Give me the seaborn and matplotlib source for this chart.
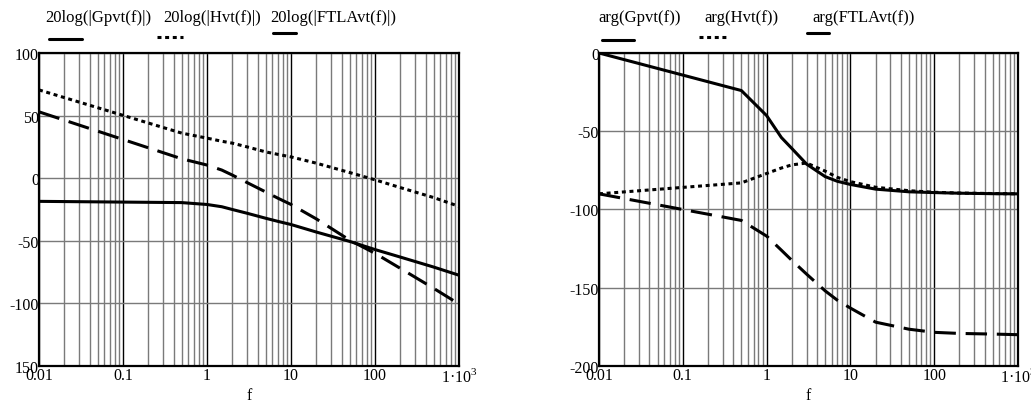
import numpy as np
import pandas as pd
import seaborn as sns
import matplotlib.pyplot as plt
from matplotlib.lines import Line2D
from matplotlib.ticker import FixedLocator, LogLocator, NullFormatter, FixedFormatter

# Frequency samples (Hz)
freq = [0.01, 0.5, 1, 1.5, 2, 3, 5, 7, 10, 20, 50, 100, 200, 500, 1000]

# Magnitudes in dB
mag_gpvt = [-18.5, -19.5, -21, -22.8, -25, -28, -32, -34.5, -37, -43, -50.5, -57, -63, -71, -77.5]
mag_hvt = [70.5, 36, 32, 29.5, 28, 25, 21, 19, 17, 12, 4.5, -1.3, -7.5, -15.5, -22.5]
mag_ftla = [53, 15.5, 10.5, 6.5, 2.5, -3.5, -11, -16, -21, -32.5, -49.5, -60, -72, -88, -100.5]

# Phases in degrees
ph_gpvt = [0, -24, -40, -54, -61, -71, -79, -82, -84, -87, -88.7, -89.2, -89.6, -89.9, -90]
ph_hvt = [-90, -83, -77, -73.5, -71.5, -70.3, -75.5, -79.5, -82.2, -85.8, -88, -89, -89.5, -89.8, -90]
ph_ftla = [-90, -107, -117, -126, -132.5, -141.3, -152, -158, -163, -172, -176.5, -178.5, -179.2, -179.6, -180]

x_ticks = [0.01, 0.1, 1, 10, 100, 1000]
x_labels = ["0.01", "0.1", "1", "10", "100", "1\u00b710$^{3}$"]
mag_ticks = [-150, -100, -50, 0, 50, 100]
mag_labels = ["150", "-100", "-50", "0", "50", "100"]
ph_ticks = [-200, -150, -100, -50, 0]
ph_labels = ["-200", "-150", "-100", "-50", "0"]

mag_names = ["20log(|Gpvt(f)|)", "20log(|Hvt(f)|)", "20log(|FTLAvt(f)|)"]
ph_names = ["arg(Gpvt(f))", "arg(Hvt(f))", "arg(FTLAvt(f))"]

sns.set_theme(style="white")
plt.rcParams["font.family"] = ["Liberation Serif", "DejaVu Serif"]
plt.rcParams["mathtext.fontset"] = "custom"
plt.rcParams["mathtext.rm"] = "Liberation Serif"
plt.rcParams["axes.unicode_minus"] = False

FS_HEAD = 12
FS_TICK = 11.5
SOLID = "-"
DOTTED = (0, (1.3, 1.2))
DASHED = (0, (7, 3.2))
LW = 2.2

mag_df = pd.DataFrame({"f": freq, "Gpvt": mag_gpvt, "Hvt": mag_hvt, "FTLAvt": mag_ftla})
ph_df = pd.DataFrame({"f": freq, "Gpvt": ph_gpvt, "Hvt": ph_hvt, "FTLAvt": ph_ftla})

fig = plt.figure(figsize=(10.31, 4.02), dpi=100)
ax1 = fig.add_axes([0.0378, 0.0871, 0.4074, 0.7786])
ax2 = fig.add_axes([0.581, 0.0871, 0.4064, 0.7786])


def draw_panel(ax, df, ylim, yticks, ylabels):
    ax.set_xscale("log")
    for col, ls in (("Gpvt", SOLID), ("Hvt", DOTTED), ("FTLAvt", DASHED)):
        sns.lineplot(data=df, x="f", y=col, ax=ax, color="black", linewidth=LW,
                     linestyle=ls, zorder=3)
    ax.set_xlim(0.01, 1000)
    ax.set_ylim(*ylim)
    ax.xaxis.set_major_locator(FixedLocator(x_ticks))
    ax.xaxis.set_major_formatter(FixedFormatter(x_labels))
    ax.xaxis.set_minor_locator(LogLocator(base=10, subs=np.arange(2, 10)))
    ax.xaxis.set_minor_formatter(NullFormatter())
    ax.yaxis.set_major_locator(FixedLocator(yticks))
    ax.yaxis.set_major_formatter(FixedFormatter(ylabels))
    ax.grid(axis="x", which="major", color="black", linewidth=1.0, zorder=1)
    ax.grid(axis="x", which="minor", color="#7a7a7a", linewidth=1.0, zorder=1)
    ax.grid(axis="y", which="major", color="#7a7a7a", linewidth=1.0, zorder=1)
    ax.set_axisbelow(True)
    ax.tick_params(axis="both", which="both", length=0, labelsize=FS_TICK, colors="black")
    ax.tick_params(axis="x", pad=1)
    ax.tick_params(axis="y", pad=0)
    ax.set_xlabel("f", fontsize=FS_TICK, labelpad=1, color="black")
    ax.set_ylabel("")
    for sp in ax.spines.values():
        sp.set_color("black")
        sp.set_linewidth(1.6)
        sp.set_visible(True)


draw_panel(ax1, mag_df, (-150, 100), mag_ticks, mag_labels)
draw_panel(ax2, ph_df, (-200, 0), ph_ticks, ph_labels)

W, H = 1031.0, 402.0


def header(names, text_x, samples):
    for name, tx in zip(names, text_x):
        fig.text(tx / W, 1 - 18 / H, name, fontsize=FS_HEAD, ha="left", va="center", color="black")
    for (x0, x1, y), ls in zip(samples, (SOLID, DOTTED, SOLID)):
        fig.add_artist(Line2D([x0 / W, x1 / W], [1 - y / H, 1 - y / H], color="black",
                              linewidth=LW, linestyle=ls, transform=fig.transFigure))


header(mag_names, [45, 163, 270], [(49, 82, 40), (157, 183, 37.5), (273, 296, 34)])
header(ph_names, [598, 704, 812], [(602, 634, 41), (699, 726, 37.5), (807, 829, 33.6)])

fig.savefig("out.png", dpi=100)
